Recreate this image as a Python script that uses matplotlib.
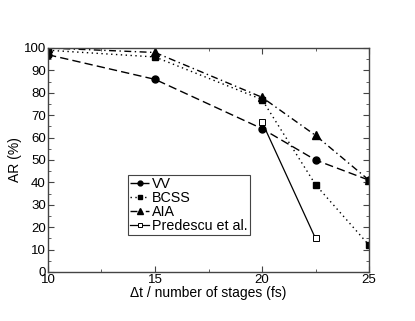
import matplotlib
matplotlib.use("Agg")
import matplotlib.pyplot as plt
from matplotlib.ticker import MultipleLocator

plt.rcParams['font.family'] = ['Liberation Sans', 'DejaVu Sans']

x_all = [10, 15, 20, 22.5, 25]
vv = [97, 86, 64, 50, 41]
bcss = [99, 96, 77, 39, 12]
aia = [100, 98, 78, 61, 41]
x_pred = [20, 22.5]
pred = [67, 15]

fig = plt.figure(figsize=(4.15, 3.21), dpi=100)
ax = fig.add_axes([48/415, 1-272/321, (369-48)/415, (272-48)/321])

ax.plot(x_all, vv, color='black', lw=1.0, ls=(0, (6, 3)), marker='o', ms=5, label='VV')
ax.plot(x_all, bcss, color='black', lw=1.0, ls=(0, (1, 2.5)), marker='s', ms=4.3, label='BCSS')
ax.plot(x_all, aia, color='black', lw=1.0, ls=(0, (5, 2.5, 1, 2.5)), marker='^', ms=5.2, label='AIA')
ax.plot(x_pred, pred, color='black', lw=0.9, ls='-', marker='s', ms=4.3, mfc='white', mew=0.7,
        label='Predescu et al.')

ax.set_xlim(10, 25)
ax.set_ylim(0, 100)
ax.xaxis.set_major_locator(MultipleLocator(5))
ax.xaxis.set_minor_locator(MultipleLocator(2.5))
ax.yaxis.set_major_locator(MultipleLocator(10))
ax.yaxis.set_minor_locator(MultipleLocator(5))
ax.tick_params(which='both', direction='in', top=True, right=True, labelsize=9.5, pad=1.5, color='#444444')
ax.tick_params(which='major', length=4)
ax.tick_params(which='minor', length=2)
for s in ax.spines.values():
    s.set_color('#444444')
    s.set_linewidth(1.0)

ax.set_xlabel('Δt / number of stages (fs)', fontsize=10, labelpad=0)
ax.set_ylabel('AR (%)', fontsize=10, labelpad=1)

leg = ax.legend(loc='lower left', bbox_to_anchor=(0.249, 0.165), fontsize=10.3, markerscale=0.7,
                handlelength=1.35, handletextpad=0.2, labelspacing=0.0, borderpad=0.15,
                borderaxespad=0, fancybox=False, framealpha=1, edgecolor='#444444')
leg.get_frame().set_linewidth(0.8)

fig.savefig('out.png', dpi=100)
